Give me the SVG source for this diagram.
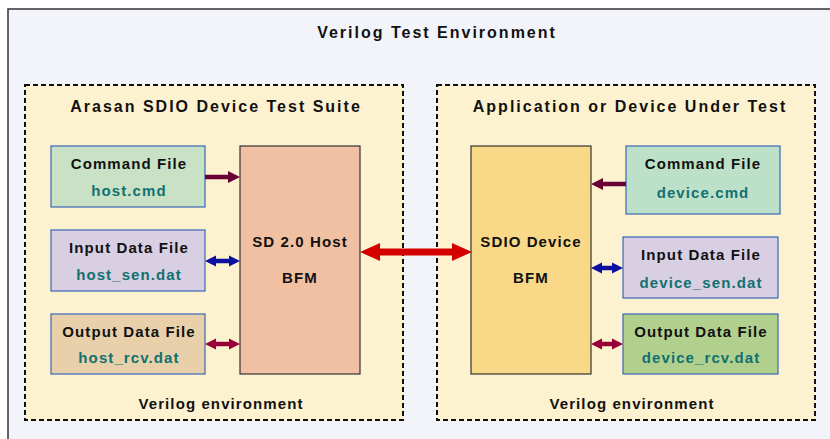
<svg xmlns="http://www.w3.org/2000/svg" width="830" height="439" viewBox="0 0 830 439">
<style>
text{font-family:"Liberation Sans",Arial,sans-serif;font-weight:bold;text-anchor:middle;fill:#111}
.t{font-size:16px;letter-spacing:2px}
.b{font-size:15px;letter-spacing:1.1px}
.f{fill:#137070}
.grp{fill:#fdf2d0;stroke:#111;stroke-width:2;stroke-dasharray:5,3}
.file{stroke:#3a66b8;stroke-width:1.2}
.bfm{stroke:#333;stroke-width:1.2}
.cmd{fill:#6b0035}
.in{fill:#0c10a0}
.out{fill:#9a0038}
.big{fill:#d40000}
</style>
<rect x="0" y="0" width="830" height="439" fill="#ffffff"/>
<rect x="8" y="9" width="840" height="450" fill="#f3f4f9" stroke="#333" stroke-width="1.5"/>
<text class="t" x="437" y="38">Verilog Test Environment</text>

<g id="host-suite">
<rect class="grp" x="25" y="85" width="378" height="335"/>
<text class="t" x="216" y="112">Arasan SDIO Device Test Suite</text>
<text class="b" x="221" y="409">Verilog environment</text>
</g>
<g id="dut">
<rect class="grp" x="437" y="85" width="378" height="335"/>
<text class="t" x="630" y="112">Application or Device Under Test</text>
<text class="b" x="632" y="409">Verilog environment</text>
</g>

<g id="host-cmd">
<rect class="file" x="51" y="146" width="154" height="61" fill="#c9e2c5"/>
<text class="b" x="129" y="169">Command File</text>
<text class="b f" x="129" y="196">host.cmd</text>
</g>
<g id="host-in">
<rect class="file" x="51" y="230" width="154" height="61" fill="#d8cfe2"/>
<text class="b" x="129" y="253">Input Data File</text>
<text class="b f" x="129" y="280">host_sen.dat</text>
</g>
<g id="host-out">
<rect class="file" x="51" y="314" width="154" height="60" fill="#e8d1aa"/>
<text class="b" x="129" y="337">Output Data File</text>
<text class="b f" x="129" y="363">host_rcv.dat</text>
</g>
<g id="host-bfm">
<rect class="bfm" x="240" y="146" width="120" height="228" fill="#f1c0a2"/>
<text class="b" x="300" y="247">SD 2.0 Host</text>
<text class="b" x="300" y="283">BFM</text>
</g>

<g id="dev-bfm">
<rect class="bfm" x="471" y="146" width="120" height="228" fill="#f9d987"/>
<text class="b" x="531" y="247">SDIO Device</text>
<text class="b" x="531" y="283">BFM</text>
</g>
<g id="dev-cmd">
<rect class="file" x="626" y="146" width="154" height="68" fill="#bde1c8"/>
<text class="b" x="703" y="169">Command File</text>
<text class="b f" x="703" y="198">device.cmd</text>
</g>
<g id="dev-in">
<rect class="file" x="623" y="237" width="155" height="61" fill="#d8cfe2"/>
<text class="b" x="701" y="260">Input Data File</text>
<text class="b f" x="701" y="288">device_sen.dat</text>
</g>
<g id="dev-out">
<rect class="file" x="623" y="314" width="155" height="60" fill="#b1d08d"/>
<text class="b" x="701" y="337">Output Data File</text>
<text class="b f" x="701" y="363">device_rcv.dat</text>
</g>

<g id="connectors">
<polygon class="cmd" points="205,174.8 228,174.8 228,171 240,177 228,183 228,179.2 205,179.2"/>
<polygon class="in" points="205,261 216,255.5 216,258.8 229,258.8 229,255.5 240,261 229,266.5 229,263.2 216,263.2 216,266.5"/>
<polygon class="out" points="205,344 216,338.5 216,341.8 229,341.8 229,338.5 240,344 229,349.5 229,346.2 216,346.2 216,349.5"/>
<polygon class="big" points="360,252 380,243 380,248.5 452,248.5 452,243 472,252 452,261 452,255.5 380,255.5 380,261"/>
<polygon class="cmd" points="591,184 603,178 603,181.8 626,181.8 626,186.2 603,186.2 603,190"/>
<polygon class="in" points="591,268 602,262.5 602,265.8 612,265.8 612,262.5 623,268 612,273.5 612,270.2 602,270.2 602,273.5"/>
<polygon class="out" points="591,344 602,338.5 602,341.8 612,341.8 612,338.5 623,344 612,349.5 612,346.2 602,346.2 602,349.5"/>
</g>
</svg>
